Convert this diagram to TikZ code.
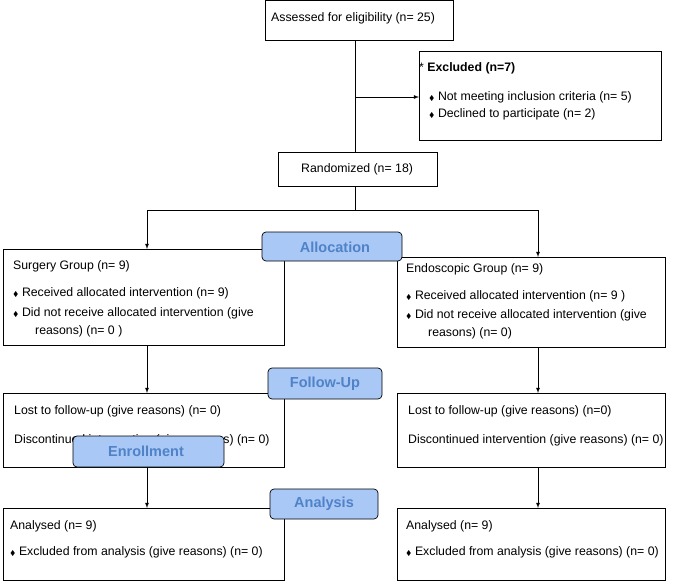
\documentclass[tikz,border=0pt]{standalone}
\usepackage{amssymb}
\usepackage{fontspec}
\setmainfont{Liberation Sans}
\begin{document}
\begin{tikzpicture}[x=1pt,y=-1pt,
 box/.style={draw=black,line width=0.8pt,fill=white},
 tab/.style={draw=black,line width=0.7pt,fill={rgb,255:red,169;green,200;blue,245},rounded corners=4pt},
 tabtxt/.style={text={rgb,255:red,80;green,130;blue,200},font=\bfseries\fontsize{14.5}{16}\selectfont},
 txt/.style={anchor=west,font=\fontsize{12.3}{14}\selectfont,inner sep=0pt},
 arr/.style={-latex,line width=0.8pt},
 ln/.style={line width=0.8pt}]
\useasboundingbox (0,0) rectangle (677,586);
\newcommand{\bul}{{\scriptsize$\blacklozenge$}\ }
% top
\draw[box] (265,0) rectangle (453,40);
\node[txt] (ass) at (271,18) {Assessed for eligibility (n= 25)};
\draw[box] (419,51) rectangle (661,140);
\node[txt] (exc) at (419,68) {* \textbf{Excluded (n=7)}};
\node[txt] at (429,97) {\bul Not meeting inclusion criteria (n= 5)};
\node[txt] at (429,114) {\bul Declined to participate (n= 2)};
\draw[box] (278,152) rectangle (437,186);
\node[txt] (ran) at (301,169) {Randomized (n= 18)};
\coordinate (a1) at (355,40); \coordinate (a2) at (355,152);
\draw[ln] (a1) -- (a2);
\coordinate (b1) at (355,97); \coordinate (b2) at (419,97);
\draw[arr] (b1) -- (b2);
\coordinate (c1) at (355,186); \coordinate (c2) at (355,210);
\coordinate (cl) at (147,210); \coordinate (cr) at (538,210);
\draw[ln] (c1) -- (c2); \draw[ln] (cl) -- (cr);
\coordinate (dl) at (147,249); \coordinate (dr) at (538,257);
\draw[arr] (cl) -- (dl); \draw[arr] (cr) -- (dr);
% allocation
\draw[box] (3,249) rectangle (284,345);
\node[txt] at (13,266) {Surgery Group (n= 9)};
\node[txt] at (13,293) {\bul Received allocated intervention (n= 9)};
\node[txt] at (13,313) {\bul Did not receive allocated intervention (give};
\node[txt] at (35,331) {reasons) (n= 0 )};
\draw[box] (397,257) rectangle (665,347);
\node[txt] at (406,269) {Endoscopic Group (n= 9)};
\node[txt] at (406,296) {\bul Received allocated intervention (n= 9 )};
\node[txt] at (406,315) {\bul Did not receive allocated intervention (give};
\node[txt] at (428,333) {reasons) (n= 0)};
\draw[tab] (262,232) rectangle (402,261);
\node[tabtxt] (alloc) at (335,247) {Allocation};
\coordinate (el1) at (147,345); \coordinate (el2) at (147,393);
\coordinate (er1) at (538,347); \coordinate (er2) at (538,393);
\draw[arr] (el1) -- (el2); \draw[arr] (er1) -- (er2);
% follow-up
\draw[box] (3,393) rectangle (284,467);
\node[txt] at (14,411) {Lost to follow-up (give reasons) (n= 0)};
\node[txt] at (14,440) {Discontinued intervention (give reasons) (n= 0)};
\draw[box] (397,393) rectangle (665,467);
\node[txt] at (408,411) {Lost to follow-up (give reasons) (n=0)};
\node[txt] at (408,440) {Discontinued intervention (give reasons) (n= 0)};
\draw[tab] (268,368) rectangle (382,399);
\node[tabtxt] (fu) at (325,384) {Follow-Up};
\draw[tab] (73,436) rectangle (224,467);
\node[tabtxt] (enr) at (146,451) {Enrollment};
\coordinate (fl1) at (147,467); \coordinate (fl2) at (147,508);
\coordinate (fr1) at (538,467); \coordinate (fr2) at (538,508);
\draw[arr] (fl1) -- (fl2); \draw[arr] (fr1) -- (fr2);
% analysis
\draw[box] (3,508) rectangle (284,580);
\node[txt] at (10,526) {Analysed (n= 9)};
\node[txt] at (10,552) {\bul Excluded from analysis (give reasons) (n= 0)};
\draw[box] (397,508) rectangle (665,580);
\node[txt] at (406,526) {Analysed (n= 9)};
\node[txt] at (406,552) {\bul Excluded from analysis (give reasons) (n= 0)};
\draw[tab] (270,489) rectangle (378,519);
\node[tabtxt] (an) at (324,504) {Analysis};
\end{tikzpicture}
\end{document}
